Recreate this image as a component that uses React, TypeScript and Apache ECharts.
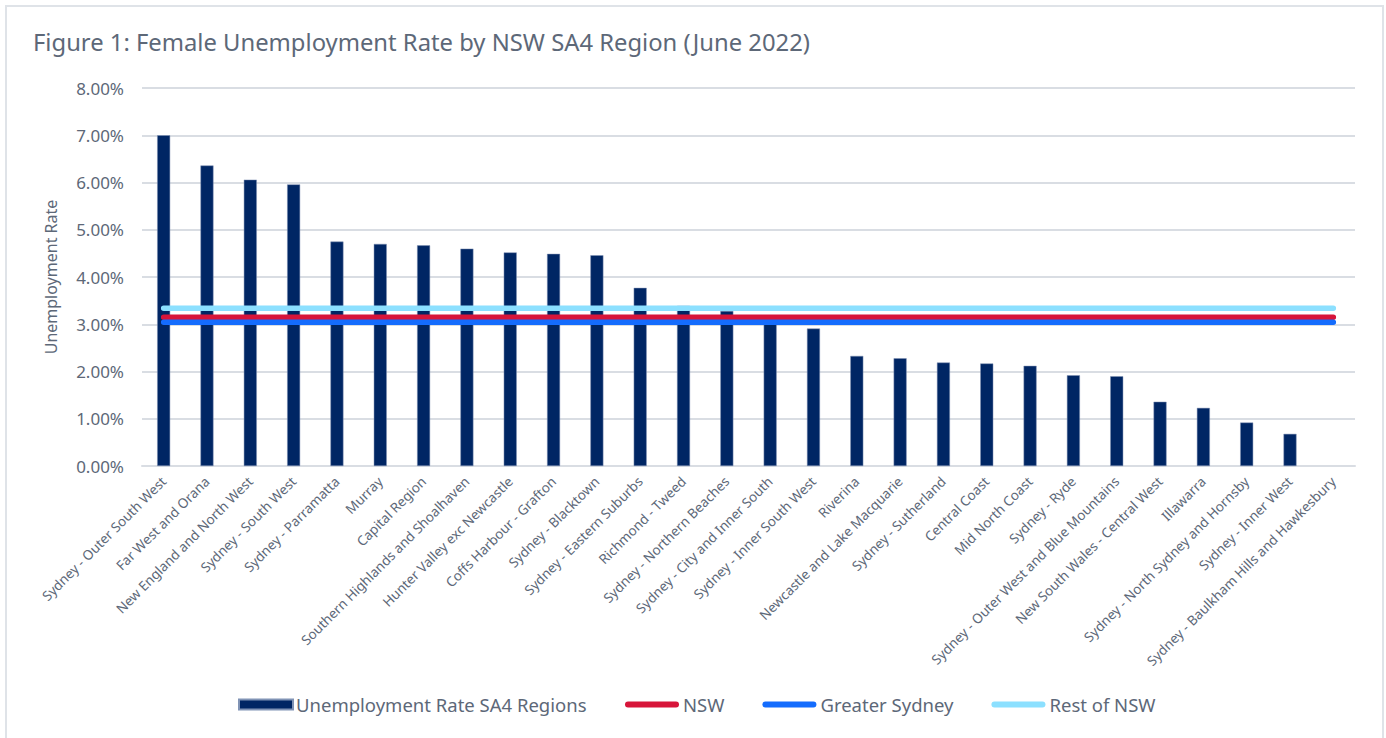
import React, { useEffect, useRef } from "react";
import * as echarts from "echarts";

const categories = [
  "Sydney - Outer South West",
  "Far West and Orana",
  "New England and North West",
  "Sydney - South West",
  "Sydney - Parramatta",
  "Murray",
  "Capital Region",
  "Southern Highlands and Shoalhaven",
  "Hunter Valley exc Newcastle",
  "Coffs Harbour - Grafton",
  "Sydney - Blacktown",
  "Sydney - Eastern Suburbs",
  "Richmond - Tweed",
  "Sydney - Northern Beaches",
  "Sydney - City and Inner South",
  "Sydney - Inner South West",
  "Riverina",
  "Newcastle and Lake Macquarie",
  "Sydney - Sutherland",
  "Central Coast",
  "Mid North Coast",
  "Sydney - Ryde",
  "Sydney - Outer West and Blue Mountains",
  "New South Wales - Central West",
  "Illawarra",
  "Sydney - North Sydney and Hornsby",
  "Sydney - Inner West",
  "Sydney - Baulkham Hills and Hawkesbury",
];

const regionRates: (number | null)[] = [
  7.0, 6.36, 6.06, 5.96, 4.75, 4.7, 4.67, 4.6, 4.52, 4.49, 4.46, 3.77, 3.39,
  3.28, 3.1, 2.91, 2.33, 2.28, 2.19, 2.17, 2.12, 1.92, 1.9, 1.36, 1.23, 0.92,
  0.68, null,
];

const nswRate = 3.15;
const greaterSydneyRate = 3.04;
const restOfNswRate = 3.34;

const yTicks = [0, 1, 2, 3, 4, 5, 6, 7, 8];

const TEXT = "#5d6878";
const FONT = "'Noto Sans', sans-serif";
const LINE_ICON =
  "path://M3,0 L51,0 A3,3 0 0 1 51,6 L3,6 A3,3 0 0 1 3,0 Z";

export default function App() {
  const ref = useRef<HTMLDivElement>(null);
  useEffect(() => {
    if (!ref.current) return;
    const chart = echarts.init(ref.current, null, { renderer: "svg" });
    const lineSeries = (name: string, value: number, color: string) => ({
      name,
      type: "line",
      data: categories.map(() => value),
      symbol: "none",
      lineStyle: { color, width: 5.5, cap: "round" },
      itemStyle: { color },
      z: 3,
    });
    const legendText = { fontFamily: FONT, fontSize: 18.5, color: TEXT, padding: [0, 0, 0, -2] };
    chart.setOption({
      animation: false,
      backgroundColor: "#ffffff",
      textStyle: { fontFamily: FONT, color: TEXT },
      title: {
        text: "Figure 1: Female Unemployment Rate by NSW SA4 Region (June 2022)",
        left: 28,
        top: 25,
        textStyle: { fontFamily: FONT, fontSize: 23.8, fontWeight: "normal", color: TEXT },
      },
      graphic: [
        {
          type: "rect",
          shape: { x: 6, y: 6, width: 1377, height: 760 },
          style: { fill: "none", stroke: "#dfe3e8", lineWidth: 2 },
          silent: true,
        },
      ],
      grid: { left: 142, right: 31, top: 88, bottom: 272, containLabel: false },
      legend: [
        {
          left: 233,
          top: 690,
          itemWidth: 54,
          itemHeight: 10,
          textStyle: legendText,
          data: [{ name: "Unemployment Rate SA4 Regions", icon: "rect" }],
        },
        {
          left: 620,
          top: 690,
          itemWidth: 56,
          itemHeight: 6,
          itemGap: 38,
          textStyle: legendText,
          data: [
            { name: "NSW", icon: LINE_ICON },
            { name: "Greater Sydney", icon: LINE_ICON },
            { name: "Rest of NSW", icon: LINE_ICON },
          ],
        },
      ],
      xAxis: {
        type: "category",
        data: categories,
        axisTick: { show: false },
        axisLine: { lineStyle: { color: "#d9dde3", width: 2 } },
        axisLabel: {
          rotate: 45,
          interval: 0,
          margin: 13,
          fontSize: 13.5,
          color: TEXT,
          fontFamily: FONT,
        },
      },
      yAxis: {
        type: "value",
        min: yTicks[0],
        max: yTicks[yTicks.length - 1],
        interval: 1,
        name: "Unemployment Rate",
        nameLocation: "middle",
        nameGap: 83,
        nameTextStyle: { fontSize: 16, color: TEXT, fontFamily: FONT },
        axisLabel: {
          margin: 18,
          fontSize: 17,
          color: TEXT,
          fontFamily: FONT,
          formatter: (v: number) => v.toFixed(2) + "%",
        },
        splitLine: { lineStyle: { color: "#d9dde3", width: 2 } },
        axisLine: { show: false },
        axisTick: { show: false },
      },
      series: [
        {
          name: "Unemployment Rate SA4 Regions",
          type: "bar",
          data: regionRates,
          barWidth: 13,
          itemStyle: { color: "#002664", borderColor: "#8093b5", borderWidth: 0.5 },
          z: 2,
        },
        lineSeries("NSW", nswRate, "#d7153a"),
        lineSeries("Greater Sydney", greaterSydneyRate, "#146cfd"),
        lineSeries("Rest of NSW", restOfNswRate, "#8ce0ff"),
      ],
    });
    return () => chart.dispose();
  }, []);
  return (
    <div
      ref={ref}
      style={{ position: "absolute", left: 0, top: 0, width: 1386, height: 738 }}
    />
  );
}
